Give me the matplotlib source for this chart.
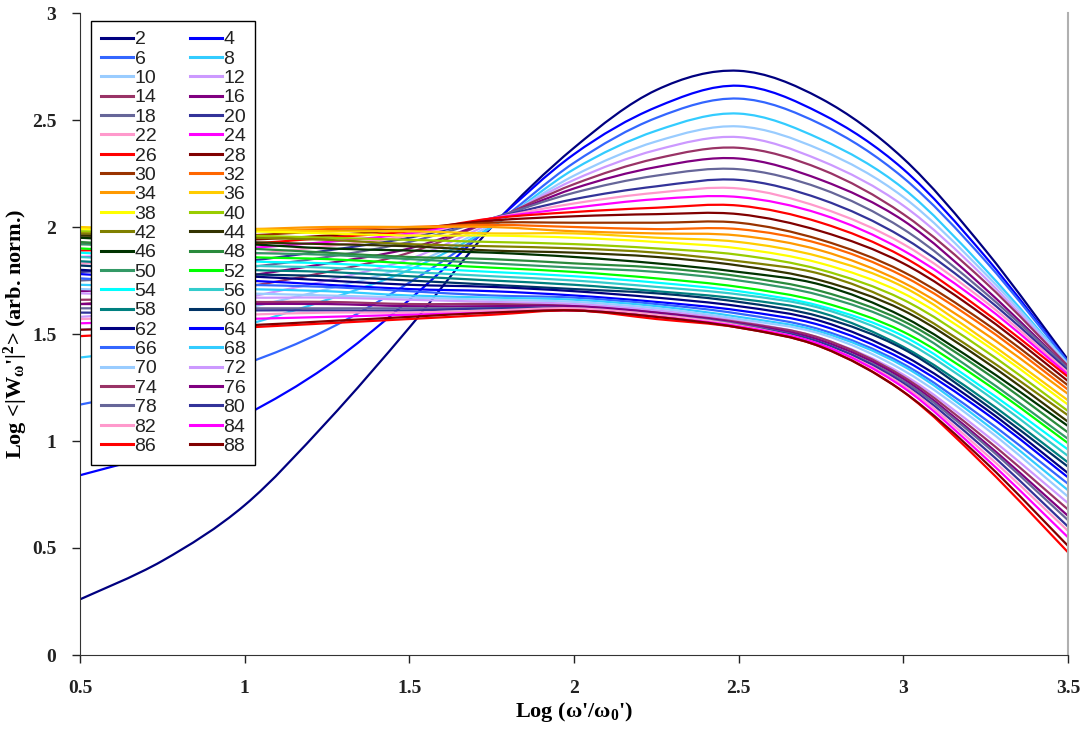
import numpy as np
import matplotlib
matplotlib.use("Agg")
import matplotlib.pyplot as plt
from matplotlib.path import Path
from matplotlib.patches import PathPatch
from matplotlib.lines import Line2D

# series names (legend)
labels = ['2', '4', '6', '8', '10', '12', '14', '16', '18', '20', '22', '24', '26', '28', '30',
          '32', '34', '36', '38', '40', '42', '44', '46', '48', '50', '52', '54', '56', '58', '60',
          '62', '64', '66', '68', '70', '72', '74', '76', '78', '80', '82', '84', '86', '88']

colors = ['#000080', '#0000ff', '#3366ff', '#33ccff', '#99ccff', '#cc99ff', '#993366', '#800080',
          '#666699', '#333399', '#ff99cc', '#ff00ff', '#ff0000', '#800000', '#993300', '#ff6600',
          '#ff9900', '#ffcc00', '#ffff00', '#99cc00', '#808000', '#333300', '#003300', '#2a8a3c',
          '#339966', '#00ff00', '#00ffff', '#33cccc', '#008080', '#003366',
          '#000080', '#0000ff', '#3366ff', '#33ccff', '#99ccff', '#cc99ff', '#993366', '#800080',
          '#666699', '#333399', '#ff99cc', '#ff00ff', '#ff0000', '#800000']

# Log(w'/w0')
x_vals = [0.5, 0.75, 1.0, 1.25, 1.5, 1.75, 2.0, 2.25, 2.5, 2.75, 3.0, 3.25, 3.5]

# Log <|W|^2> of every series (2..88) at each x
at_050 = [0.26, 0.84, 1.17, 1.39, 1.52, 1.58, 1.64, 1.70, 1.75, 1.79, 1.83, 1.86, 1.89, 1.92, 1.95,
          1.97, 1.99, 2.00, 1.99, 1.98, 1.97, 1.96, 1.95, 1.93, 1.92, 1.90, 1.88, 1.86, 1.84, 1.82,
          1.80, 1.78, 1.76, 1.73, 1.71, 1.69, 1.66, 1.64, 1.62, 1.60, 1.57, 1.55, 1.49, 1.52]
at_075 = [0.44, 0.95, 1.25, 1.44, 1.55, 1.61, 1.67, 1.72, 1.77, 1.81, 1.84, 1.87, 1.90, 1.93, 1.95,
          1.97, 1.99, 1.99, 1.98, 1.97, 1.96, 1.95, 1.93, 1.91, 1.90, 1.88, 1.86, 1.84, 1.82, 1.80,
          1.78, 1.76, 1.74, 1.72, 1.70, 1.68, 1.66, 1.64, 1.62, 1.60, 1.58, 1.56, 1.51, 1.53]
at_100 = [0.70, 1.12, 1.36, 1.54, 1.62, 1.67, 1.72, 1.77, 1.81, 1.84, 1.87, 1.90, 1.92, 1.94, 1.96,
          1.98, 1.99, 1.99, 1.98, 1.96, 1.95, 1.93, 1.92, 1.90, 1.88, 1.86, 1.84, 1.82, 1.80, 1.78,
          1.77, 1.75, 1.73, 1.71, 1.69, 1.67, 1.65, 1.64, 1.62, 1.61, 1.59, 1.57, 1.53, 1.54]
at_125 = [1.09, 1.35, 1.52, 1.66, 1.71, 1.75, 1.79, 1.83, 1.86, 1.89, 1.91, 1.93, 1.95, 1.96, 1.98,
          1.99, 2.00, 1.98, 1.97, 1.95, 1.94, 1.92, 1.90, 1.88, 1.87, 1.85, 1.83, 1.81, 1.79, 1.77,
          1.75, 1.73, 1.72, 1.70, 1.68, 1.67, 1.65, 1.64, 1.62, 1.61, 1.60, 1.58, 1.55, 1.56]
at_150 = [1.53, 1.66, 1.74, 1.80, 1.82, 1.85, 1.88, 1.90, 1.93, 1.95, 1.96, 1.97, 1.98, 1.99, 1.99,
          2.00, 2.00, 1.98, 1.96, 1.94, 1.92, 1.91, 1.89, 1.86, 1.85, 1.83, 1.81, 1.79, 1.77, 1.75,
          1.73, 1.71, 1.70, 1.68, 1.67, 1.66, 1.64, 1.63, 1.62, 1.61, 1.60, 1.59, 1.57, 1.58]
at_175 = [2.00, 2.01, 2.00, 2.00, 2.01, 2.02, 2.03, 2.03, 2.04, 2.04, 2.04, 2.04, 2.04, 2.03, 2.02,
          2.01, 2.00, 1.97, 1.96, 1.93, 1.91, 1.89, 1.88, 1.85, 1.83, 1.81, 1.79, 1.77, 1.75, 1.73,
          1.72, 1.70, 1.68, 1.67, 1.66, 1.65, 1.64, 1.63, 1.62, 1.62, 1.61, 1.60, 1.59, 1.60]
at_200 = [2.37, 2.34, 2.30, 2.27, 2.24, 2.22, 2.20, 2.18, 2.16, 2.13, 2.11, 2.09, 2.07, 2.05, 2.02,
          2.00, 1.98, 1.97, 1.95, 1.92, 1.90, 1.88, 1.86, 1.83, 1.81, 1.79, 1.77, 1.75, 1.73, 1.71,
          1.70, 1.68, 1.67, 1.66, 1.65, 1.64, 1.63, 1.63, 1.62, 1.62, 1.62, 1.61, 1.61, 1.61]
at_225 = [2.64, 2.56, 2.51, 2.45, 2.40, 2.36, 2.32, 2.28, 2.24, 2.19, 2.16, 2.13, 2.09, 2.06, 2.02,
          1.99, 1.97, 1.95, 1.93, 1.90, 1.88, 1.86, 1.83, 1.81, 1.79, 1.76, 1.74, 1.72, 1.70, 1.69,
          1.67, 1.65, 1.64, 1.63, 1.62, 1.61, 1.60, 1.60, 1.59, 1.59, 1.59, 1.58, 1.57, 1.58]
at_250 = [2.73, 2.66, 2.60, 2.53, 2.47, 2.42, 2.37, 2.32, 2.27, 2.22, 2.18, 2.14, 2.10, 2.06, 2.02,
          1.99, 1.96, 1.93, 1.90, 1.87, 1.84, 1.82, 1.79, 1.77, 1.75, 1.72, 1.70, 1.685, 1.665, 1.65,
          1.63, 1.61, 1.595, 1.58, 1.57, 1.56, 1.555, 1.55, 1.545, 1.54, 1.54, 1.535, 1.53, 1.53]
at_275 = [2.60, 2.53, 2.48, 2.41, 2.36, 2.31, 2.27, 2.22, 2.18, 2.13, 2.09, 2.06, 2.02, 1.98, 1.94,
          1.92, 1.89, 1.86, 1.83, 1.80, 1.78, 1.75, 1.73, 1.70, 1.68, 1.65, 1.63, 1.62, 1.60, 1.58,
          1.56, 1.54, 1.52, 1.51, 1.50, 1.48, 1.48, 1.47, 1.46, 1.46, 1.45, 1.45, 1.44, 1.44]
at_300 = [2.32, 2.27, 2.23, 2.18, 2.14, 2.10, 2.06, 2.03, 1.99, 1.95, 1.92, 1.89, 1.86, 1.83, 1.79,
          1.77, 1.74, 1.72, 1.69, 1.66, 1.63, 1.61, 1.58, 1.56, 1.54, 1.51, 1.49, 1.47, 1.44, 1.43,
          1.40, 1.38, 1.36, 1.35, 1.33, 1.31, 1.30, 1.29, 1.28, 1.27, 1.26, 1.25, 1.23, 1.23]
at_325 = [1.89, 1.86, 1.84, 1.80, 1.78, 1.76, 1.74, 1.71, 1.69, 1.67, 1.65, 1.63, 1.60, 1.58, 1.55,
          1.53, 1.50, 1.47, 1.45, 1.42, 1.39, 1.37, 1.34, 1.32, 1.29, 1.27, 1.24, 1.22, 1.19, 1.17,
          1.15, 1.13, 1.10, 1.08, 1.06, 1.03, 1.01, 0.99, 0.98, 0.96, 0.94, 0.92, 0.88, 0.90]
at_350 = [1.38, 1.37, 1.37, 1.36, 1.36, 1.35, 1.35, 1.34, 1.34, 1.33, 1.32, 1.31, 1.30, 1.28, 1.26,
          1.24, 1.22, 1.19, 1.17, 1.14, 1.12, 1.09, 1.07, 1.04, 1.01, 0.99, 0.96, 0.93, 0.90, 0.88,
          0.85, 0.83, 0.80, 0.77, 0.74, 0.71, 0.68, 0.65, 0.63, 0.60, 0.58, 0.55, 0.48, 0.51]

columns = [at_050, at_075, at_100, at_125, at_150, at_175, at_200,
           at_225, at_250, at_275, at_300, at_325, at_350]
Y = np.array(columns)


def smooth_path(xs, ys):
    # smoothed line like the spreadsheet one: bezier segments through the points
    pts = np.column_stack([xs, ys])
    n = len(pts)
    verts = [pts[0]]
    codes = [Path.MOVETO]
    for i in range(n - 1):
        p0 = pts[max(i - 1, 0)]
        p1 = pts[i]
        p2 = pts[i + 1]
        p3 = pts[min(i + 2, n - 1)]
        verts += [p1 + (p2 - p0) / 6.0, p2 - (p3 - p1) / 6.0, p2]
        codes += [Path.CURVE4] * 3
    return Path(verts, codes)


plt.rcParams['mathtext.fontset'] = 'custom'
plt.rcParams['mathtext.rm'] = 'Liberation Serif:bold'
plt.rcParams['mathtext.it'] = 'Liberation Serif:bold'
plt.rcParams['mathtext.bf'] = 'Liberation Serif:bold'
serif = {'family': 'Liberation Serif', 'weight': 'bold'}

fig = plt.figure(figsize=(10.91, 7.31), dpi=100)
ax = fig.add_axes([80 / 1091, 76 / 731, 988 / 1091, 642 / 731])

handles = []
for j, lab in enumerate(labels):
    patch = PathPatch(smooth_path(x_vals, Y[:, j]), facecolor='none', edgecolor=colors[j],
                      lw=1.6, transform=ax.transData, zorder=2 + j * 0.01)
    ax.add_patch(patch)
    handles.append(Line2D([], [], color=colors[j], lw=2.2))

ax.set_xlim(0.5, 3.5)
ax.set_ylim(0, 3)
ax.set_xticks([0.5, 1, 1.5, 2, 2.5, 3, 3.5])
ax.set_xticklabels(['0.5', '1', '1.5', '2', '2.5', '3', '3.5'], fontdict=serif, fontsize=14)
ax.set_yticks([0, 0.5, 1, 1.5, 2, 2.5, 3])
ax.set_yticklabels(['0', '0.5', '1', '1.5', '2', '2.5', '3'], fontdict=serif, fontsize=14)
ax.tick_params(axis='x', direction='out', length=6, width=1, pad=12, colors='#222222')
ax.tick_params(axis='y', direction='out', length=6, width=1, pad=11, colors='#222222')

ax.spines['top'].set_visible(False)
ax.spines['right'].set_color('#b0b0b0')
ax.spines['right'].set_linewidth(1.5)
ax.spines['left'].set_color('#333333')
ax.spines['bottom'].set_color('#333333')

ax.set_xlabel("Log (\u03c9'/\u03c9$_0$')", fontdict=serif, fontsize=16, labelpad=2)
ax.set_ylabel("Log <|W$_{\u03c9}$'|$^{2}$> (arb. norm.)", fontdict=serif, fontsize=16)
ax.yaxis.label.set_va('center')
ax.yaxis.set_label_coords(-0.065, 0.5)

# legend is filled row by row in the original: 2 4 / 6 8 / ...
order = list(range(0, len(labels), 2)) + list(range(1, len(labels), 2))
leg = ax.legend([handles[i] for i in order], [labels[i] for i in order], ncol=2,
                loc='upper left', bbox_to_anchor=(0.011, 0.9875),
                prop={'family': 'Liberation Sans', 'size': 14}, frameon=True, fancybox=False,
                edgecolor='black', framealpha=1.0, labelspacing=0.09, handlelength=1.65,
                handletextpad=0.1, columnspacing=1.7, borderpad=0.5, borderaxespad=0)
leg.get_frame().set_linewidth(1.0)
for t in leg.get_texts():
    t.set_color('#222222')
leg.set_zorder(5)

fig.savefig('out.png', dpi=100)
